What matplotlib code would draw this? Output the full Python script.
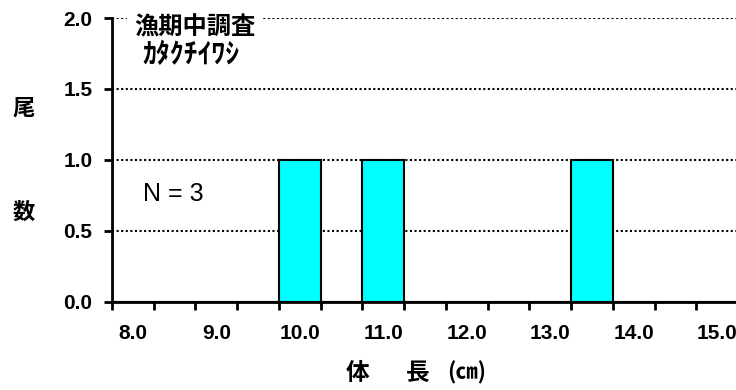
import matplotlib
matplotlib.use("Agg")
import matplotlib.pyplot as plt
import numpy as np

plt.rcParams['font.family'] = ['Noto Sans CJK JP', 'DejaVu Sans']

# body length classes (cm) and fish counts
bins = ["8.0", "8.5", "9.0", "9.5", "10.0", "10.5", "11.0", "11.5",
        "12.0", "12.5", "13.0", "13.5", "14.0", "14.5", "15.0"]
counts = [0, 0, 0, 0, 1, 0, 1, 0, 0, 0, 0, 1, 0, 0, 0]
shown_labels = ["8.0", "9.0", "10.0", "11.0", "12.0", "13.0", "14.0", "15.0"]
y_ticks = [0.0, 0.5, 1.0, 1.5, 2.0]

title1 = "漁期中調査"
title2 = "ｶﾀｸﾁｲﾜｼ"
n_text = "N = 3"


def main():
    fig = plt.figure(figsize=(7.36, 3.9), dpi=100)
    ax = fig.add_axes([112/736, 88.5/390, 626/736, 283.5/390])

    x = np.arange(len(bins))
    ax.bar(x, counts, width=1.0, color="#00FFFF", edgecolor="black",
           linewidth=1.5, zorder=3)

    ax.set_xlim(-0.5, len(bins) - 0.5)
    ax.set_ylim(0, 2.0)

    # labels every other class, tick marks at class boundaries
    ax.set_xticks(x)
    ax.set_xticklabels([b if b in shown_labels else "" for b in bins],
                       family="Liberation Sans", fontweight="bold", fontsize=15)
    ax.tick_params(axis="x", which="major", length=0, pad=16)
    ax.set_xticks(np.arange(-0.5, len(bins), 1.0), minor=True)
    ax.tick_params(axis="x", which="minor", length=6, width=2, direction="out")

    ax.set_yticks(y_ticks)
    ax.set_yticklabels(["%.1f" % v for v in y_ticks],
                       family="Liberation Sans", fontweight="bold", fontsize=15)
    ax.tick_params(axis="y", length=6, width=2, pad=8)

    for s in ["top", "right"]:
        ax.spines[s].set_visible(False)
    for s in ["left", "bottom"]:
        ax.spines[s].set_linewidth(2)
        ax.spines[s].set_zorder(4)

    ax.yaxis.grid(True, color="black", linestyle=(0, (1, 1.2)), linewidth=1.5)
    ax.set_axisbelow(True)

    ax.text(0.036, 0.965, title1, transform=ax.transAxes, fontsize=17.5,
            fontweight="bold", va="center", ha="left", zorder=5,
            bbox=dict(facecolor="white", edgecolor="none", pad=5))
    ax.text(0.048, 0.87, title2, transform=ax.transAxes, fontsize=20,
            fontweight="bold", va="center", ha="left", zorder=5)
    ax.text(0.049, 0.38, n_text, transform=ax.transAxes, fontsize=18,
            family="Liberation Sans", va="center", ha="left")

    fig.text(24/736, 1 - 108/390, "尾", fontsize=16, fontweight="bold",
             ha="center", va="center")
    fig.text(24/736, 1 - 212/390, "数", fontsize=16, fontweight="bold",
             ha="center", va="center")
    fig.text(358/736, 1 - 373/390, "体", fontsize=17, fontweight="bold",
             ha="center", va="center")
    fig.text(418/736, 1 - 373/390, "長", fontsize=17, fontweight="bold",
             ha="center", va="center")
    fig.text(467/736, 1 - 373/390, "(㎝)", fontsize=16, fontweight="bold",
             ha="center", va="center")

    fig.savefig("out.png", dpi=100)


if __name__ == '__main__':
    main()
